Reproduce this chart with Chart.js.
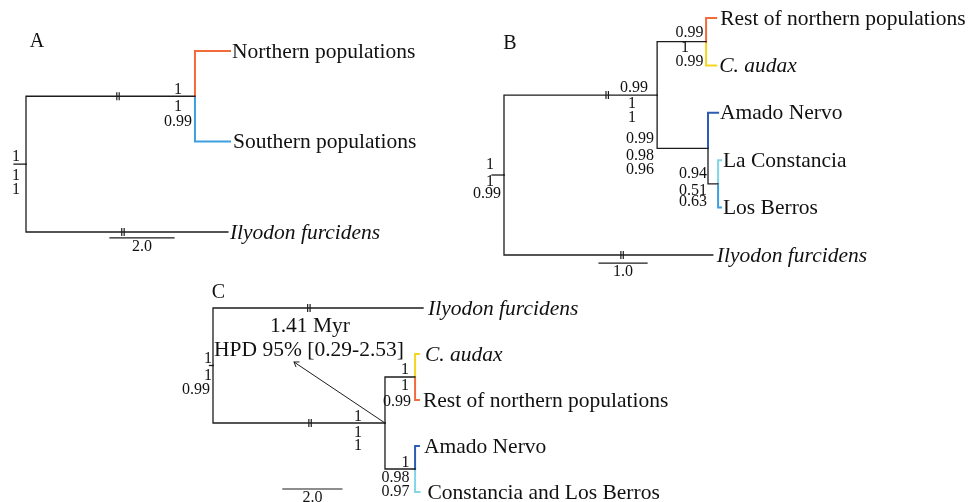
<!DOCTYPE html>
<html><head><meta charset="utf-8">
<script src="https://cdn.jsdelivr.net/npm/chart.js@4.4.1/dist/chart.umd.min.js"></script>
<style>html,body{margin:0;padding:0;background:#fff;}canvas{display:block;}</style>
</head><body>
<canvas id="c" width="979" height="502"></canvas>
<script>
// ================= DATA =================
// Panel A
const nodesA   = ["rootA", "nA1", "Northern populations", "Southern populations", "Ilyodon furcidens"];
const parentsA = [-1, 0, 1, 1, 0];
const depthsA  = [0, 5.28, 6.375, 6.375, 6.31];          // branch-length units (display)
const tipRowsA = [null, null, 0, 1, 2];
const supportNodesA = [1, 0];
const supportValsA  = [["1", "1", "0.99"], ["1", "1", "1"]];
const breakEdgesA = [1, 4];
const breakDepthsA = [2.875, 3.03];
const scaleBarA = 2.0;

// Panel B
const nodesB   = ["rootB", "nB1", "nBup", "Rest of northern populations", "C. audax", "nBlow", "Amado Nervo", "nBsub", "La Constancia", "Los Berros", "Ilyodon furcidens"];
const parentsB = [-1, 0, 1, 2, 2, 1, 5, 5, 7, 7, 0];
const depthsB  = [0, 3.19, 4.21, 4.42, 4.42, 4.25, 4.46, 4.46, 4.52, 4.52, 4.35];
const tipRowsB = [null, null, null, 0, 1, null, 2, null, 3, 4, 5];
const supportNodesB = [0, 1, 5, 2, 7];
const supportValsB  = [["1", "1", "0.99"], ["0.99", "1", "1"], ["0.99", "0.98", "0.96"], ["0.99", "1", "0.99"], ["0.94", "0.51", "0.63"]];
const breakEdgesB = [1, 10];
const breakDepthsB = [2.15, 2.46];
const scaleBarB = 1.0;

// Panel C
const nodesC   = ["rootC", "nC1", "nCup", "C. audax", "Rest of northern populations", "nClow", "Amado Nervo", "Constancia and Los Berros", "Ilyodon furcidens"];
const parentsC = [-1, 0, 1, 2, 2, 1, 5, 5, 0];
const depthsC  = [0, 5.83, 6.85, 6.98, 6.98, 6.85, 6.98, 7.0, 7.12];
const tipRowsC = [null, null, null, 1, 2, null, 3, 4, 0];
const supportNodesC = [0, 1, 2, 5];
const supportValsC  = [["1", "1", "0.99"], ["1", "1", "1"], ["1", "1", "0.99"], ["1", "0.98", "0.97"]];
const breakEdgesC = [1, 8];
const breakDepthsC = [3.29, 3.25];
const scaleBarC = 2.0;
const ageNodeC = 1;
const ageTextC = ["1.41 Myr", "HPD 95% [0.29-2.53]"];

const italicTips = ["Ilyodon furcidens", "C. audax"];

// ================= STYLE / LAYOUT =================
const K = '#1c1c1c', OR = '#f26b3a', YE = '#f6d51e', DB = '#2d5cb4', CY = '#80d6e7', BL = '#3d9fe0';
const edgeColors = {
  A: [null, K, OR, BL, K],
  B: [null, K, K, OR, YE, K, DB, K, CY, BL, K],
  C: [null, K, K, YE, OR, K, DB, CY, K]
};
const layout = {
  A: { x0: 26, kx: 32, y0: 51, ky: 90.5, stem: 0.375, barStart: 2.625, barRow: 2.066,
       letter: ["A", 37, 42], tipDx: [0, 0, 2, 3, 2],
       sup: [[[-17, -6.25], [-17, 10.75], [-17, 25.75]], [[-10, -7], [-10, 11.4], [-10, 26]]] },
  B: { x0: 504, kx: 48, y0: 18, ky: 47.4, stem: 0.25, barStart: 1.98, barRow: 5.17,
       letter: ["B", 510, 43.5], tipDx: [0, 0, 0, 4, 3, 0, 2, 0, 2, 2, 4],
       sup: [[[-14, -10], [-14, 7], [-17, 19]], [[-23, -7.5], [-25, 9], [-25, 22.5]],
             [[-68, -9.8], [-68, 7.6], [-68, 21.1]], [[-16.6, -8.7], [-21, 6.3], [-16.6, 20.3]],
             [[-25, -10.4], [-25, 6.6], [-25, 17.6]]] },
  C: { x0: 213, kx: 29.5, y0: 308, ky: 46, stem: 0.12, barStart: 2.37, barRow: 3.935,
       letter: ["C", 218.5, 293], tipDx: [0, 0, 0, 6, 4, 0, 5, 8, 5],
       sup: [[[-5, -6.5], [-5, 10.5], [-17, 24.5]], [[-27, -6], [-27, 9.5], [-27, 23]],
             [[-10, -7], [-10, 8.5], [-18, 24.5]], [[-9.6, -6], [-19.6, 8.5], [-19.6, 22.5]]],
       ageText: [[310, 326], [309, 350.5]], arrowEnd: [2.746, 1.174] }
};
const W = 979, H = 502;

// ================= BUILD =================
function computeRows(parents, tipRows) {
  const rows = tipRows.slice();
  function row(i) {
    if (rows[i] !== null) return rows[i];
    const kids = parents.map((p, j) => p === i ? j : -1).filter(j => j >= 0);
    rows[i] = kids.reduce((s, j) => s + row(j), 0) / kids.length;
    return rows[i];
  }
  for (let i = 0; i < parents.length; i++) row(i);
  return rows;
}
const panels = [
  { id: 'A', nodes: nodesA, parents: parentsA, depths: depthsA, tipRows: tipRowsA, supN: supportNodesA, supV: supportValsA, brE: breakEdgesA, brD: breakDepthsA, bar: scaleBarA },
  { id: 'B', nodes: nodesB, parents: parentsB, depths: depthsB, tipRows: tipRowsB, supN: supportNodesB, supV: supportValsB, brE: breakEdgesB, brD: breakDepthsB, bar: scaleBarB },
  { id: 'C', nodes: nodesC, parents: parentsC, depths: depthsC, tipRows: tipRowsC, supN: supportNodesC, supV: supportValsC, brE: breakEdgesC, brD: breakDepthsC, bar: scaleBarC }
];
panels.forEach(p => { p.rows = computeRows(p.parents, p.tipRows); });

const datasets = [];
const scales = {};
function lineDs(id, pts, color, width) {
  return { data: pts, showLine: true, borderColor: color, borderWidth: width, pointRadius: 0,
           borderCapStyle: 'square', borderJoinStyle: 'miter', tension: 0, fill: false,
           xAxisID: 'x' + id, yAxisID: 'y' + id };
}
panels.forEach(p => {
  const L = layout[p.id];
  scales['x' + p.id] = { type: 'linear', axis: 'x', position: 'bottom', display: false,
                         min: -L.x0 / L.kx, max: (W - L.x0) / L.kx };
  scales['y' + p.id] = { type: 'linear', axis: 'y', position: 'left', display: false, reverse: true,
                         min: -L.y0 / L.ky, max: (H - L.y0) / L.ky };
  p.parents.forEach((par, i) => {
    if (par < 0) {
      datasets.push(lineDs(p.id, [{ x: p.depths[i] - L.stem, y: p.rows[i] }, { x: p.depths[i], y: p.rows[i] }], K, 1.3));
      return;
    }
    const c = edgeColors[p.id][i];
    datasets.push(lineDs(p.id, [
      { x: p.depths[par], y: p.rows[par] },
      { x: p.depths[par], y: p.rows[i] },
      { x: p.depths[i], y: p.rows[i] }
    ], c, c === K ? 1.3 : 2));
  });
  // scale bar
  datasets.push(lineDs(p.id, [{ x: L.barStart, y: L.barRow }, { x: L.barStart + p.bar, y: L.barRow }], K, 1.2));
  if (p.id === 'C') {
    datasets.push(lineDs('C', [{ x: p.depths[ageNodeC], y: p.rows[ageNodeC] }, { x: L.arrowEnd[0], y: L.arrowEnd[1] }], K, 1));
  }
});

const textPlugin = {
  id: 'treeText',
  afterDatasetsDraw(chart) {
    const ctx = chart.ctx;
    ctx.save();
    ctx.fillStyle = '#111';
    ctx.strokeStyle = '#1c1c1c';
    panels.forEach(p => {
      const L = layout[p.id];
      const xs = chart.scales['x' + p.id], ys = chart.scales['y' + p.id];
      const X = v => xs.getPixelForValue(v), Y = v => ys.getPixelForValue(v);
      // panel letter
      ctx.font = '20px "Liberation Serif"';
      ctx.textAlign = 'center'; ctx.textBaseline = 'middle';
      ctx.fillText(L.letter[0], L.letter[1], L.letter[2]);
      // tips
      ctx.textAlign = 'left';
      p.nodes.forEach((name, i) => {
        if (p.tipRows[i] === null) return;
        ctx.font = (italicTips.includes(name) ? 'italic ' : '') + '21.5px "Liberation Serif"';
        ctx.fillText(name, X(p.depths[i]) + L.tipDx[i], Y(p.rows[i]) + 1);
      });
      // supports
      ctx.font = '16px "Liberation Serif"';
      ctx.textAlign = 'center';
      p.supN.forEach((n, k) => {
        const nx = X(p.depths[n]), ny = Y(p.rows[n]);
        p.supV[k].forEach((v, j) => {
          const o = L.sup[k][j];
          ctx.fillText(v, nx + o[0], ny + o[1]);
        });
      });
      // breaks
      ctx.lineWidth = 1.2;
      p.brE.forEach((e, k) => {
        const bx = X(p.brD[k]), by = Y(p.rows[e]);
        [-1.2, 1.2].forEach(d => {
          ctx.beginPath(); ctx.moveTo(bx + d, by - 4); ctx.lineTo(bx + d, by + 4); ctx.stroke();
        });
      });
      // scale label
      ctx.font = '16px "Liberation Serif"';
      ctx.fillText(p.bar.toFixed(1), X(L.barStart + p.bar / 2), Y(L.barRow) + 8.5);
      // age annotation
      if (p.id === 'C') {
        ctx.font = '21.5px "Liberation Serif"';
        ageTextC.forEach((t, j) => ctx.fillText(t, L.ageText[j][0], L.ageText[j][1]));
        const sx = X(p.depths[ageNodeC]), sy = Y(p.rows[ageNodeC]);
        const ex = X(L.arrowEnd[0]), ey = Y(L.arrowEnd[1]);
        const ang = Math.atan2(sy - ey, sx - ex);
        ctx.lineWidth = 1;
        ctx.beginPath();
        ctx.moveTo(ex + 5.5 * Math.cos(ang - 0.6), ey + 5.5 * Math.sin(ang - 0.6));
        ctx.lineTo(ex, ey);
        ctx.lineTo(ex + 5.5 * Math.cos(ang + 0.6), ey + 5.5 * Math.sin(ang + 0.6));
        ctx.stroke();
      }
    });
    ctx.restore();
  }
};

new Chart(document.getElementById('c'), {
  type: 'scatter',
  data: { datasets },
  options: {
    responsive: false, devicePixelRatio: 1, animation: false, events: [],
    layout: { padding: 0 },
    scales,
    plugins: { legend: { display: false }, tooltip: { enabled: false }, title: { display: false } }
  },
  plugins: [textPlugin]
});
</script>
</body></html>
